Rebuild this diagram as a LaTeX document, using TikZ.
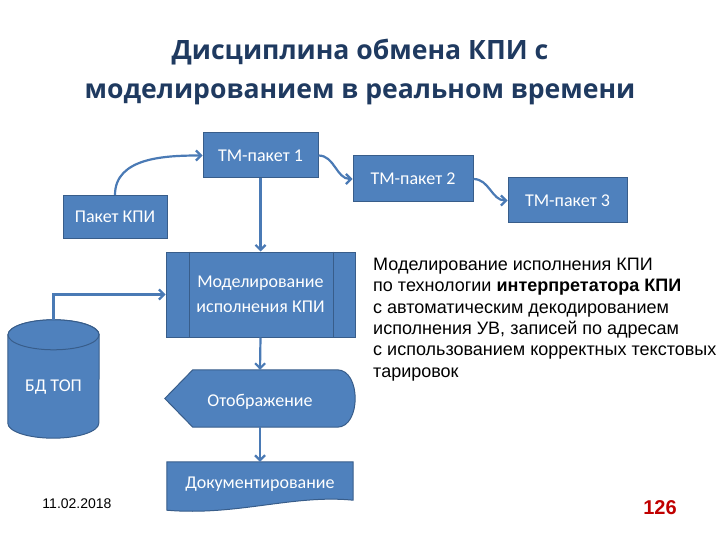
\documentclass[tikz,border=0pt]{standalone}
\usepackage{fontspec}
\setmainfont{Carlito}
\newfontfamily\arialfont{Liberation Sans}
\newfontfamily\titlefont{Open Sans}
\usepackage{tikz}
\usetikzlibrary{positioning,calc,arrows.meta}
\definecolor{boxblue}{HTML}{4F81BD}
\definecolor{boxedge}{HTML}{385D8A}
\definecolor{linkblue}{HTML}{4A7AB5}
\definecolor{titleblue}{HTML}{1F3A60}
\definecolor{pagered}{HTML}{C00000}

\begin{document}
\begin{tikzpicture}[x=1pt,y=-1pt,font=\fontsize{18}{25}\selectfont,
  pkt/.style={draw=boxedge,fill=boxblue,text=white,line width=1pt,inner sep=0pt},
  shapebox/.style={draw=boxedge,fill=boxblue,line width=1pt},
  link/.style={draw=linkblue,line width=2.2pt,-{Straight Barb[length=5pt,width=10pt]}}]
\useasboundingbox (0,0) rectangle (720,540);
\node[font=\titlefont\bfseries\fontsize{26.6}{39}\selectfont,text=titleblue,align=center] (title) at (360,72) {Дисциплина обмена КПИ с\\моделированием в реальном времени};
\node[pkt,minimum width=115pt,minimum height=45pt] (tm1) at (260.5,155.5) {ТМ-пакет 1};
\node[pkt,minimum width=120pt,minimum height=46pt] (tm2) at (413,179) {ТМ-пакет 2};
\node[pkt,minimum width=119pt,minimum height=45pt] (tm3) at (567.5,200.5) {ТМ-пакет 3};
\node[pkt,minimum width=104pt,minimum height=43pt] (kpi) at (115,217) {Пакет КПИ};
\node[pkt,minimum width=189pt,minimum height=85pt,align=center] (model) at (260.5,294.5) {Моделирование\\исполнения КПИ};
\draw[boxedge,line width=1pt] ([xshift=24pt]model.north west) -- ([xshift=24pt]model.south west);
\draw[boxedge,line width=1pt] ([xshift=-22pt]model.north east) -- ([xshift=-22pt]model.south east);
% display shape
\node[minimum width=190pt,minimum height=57pt,inner sep=0pt] (disp) at (260,398.5) {};
\draw[shapebox] (disp.west) -- ([xshift=28pt]disp.north west) -- ([xshift=-18pt]disp.north east)
  .. controls ([xshift=6pt]disp.north east) and ([xshift=6pt]disp.south east) .. ([xshift=-18pt]disp.south east)
  -- ([xshift=28pt]disp.south west) -- cycle;
\node[text=white] at ([yshift=-3pt]disp.center) {Отображение};
% document shape
\node[minimum width=186pt,minimum height=48pt,inner sep=0pt] (doc) at (260,486) {};
\draw[shapebox] (doc.north west) -- (doc.north east) -- ([yshift=10pt]doc.south east)
  .. controls ([xshift=-60pt,yshift=16pt]doc.south east) and ([xshift=70pt,yshift=-6pt]doc.south west) .. ([yshift=0pt]doc.south west) -- cycle;
\node[text=white] at ([yshift=2pt]doc.center) {Документирование};
% database
\node[minimum width=91pt,minimum height=118pt,inner sep=0pt] (db) at (53.5,379) {};
\draw[shapebox] ([yshift=-15pt]db.north west) -- ([yshift=15pt]db.south west)
  arc[start angle=180,end angle=360,x radius=45.5pt,y radius=15pt] -- ([yshift=-15pt]db.north east)
  arc[start angle=0,end angle=180,x radius=45.5pt,y radius=15pt] -- cycle;
\draw[shapebox] ([yshift=-15pt]db.north) ellipse[x radius=45.5pt,y radius=15pt];
\node[text=white] at ([yshift=-8pt]db.center) {БД ТОП};
% links
\draw[link] (kpi.north) to[out=90,in=180] (tm1.west);
\draw[link] (tm1.east) to[out=0,in=180] (tm2.west);
\draw[link] (tm2.east) to[out=0,in=180] (tm3.west);
\draw[link] (tm1.south) -- (model.north);
\draw[link] (db.north) |- (model.west);
\draw[link] (model.south) -- (disp.north);
\draw[link] (disp.south) -- (doc.north);
\node[font=\arialfont\fontsize{18}{21.3}\selectfont,align=left,anchor=north west,inner sep=0pt] (note) at (373,258)
  {Моделирование исполнения КПИ\\по технологии \textbf{интерпретатора КПИ}\\с автоматическим декодированием\\исполнения УВ, записей по адресам\\с использованием корректных текстовых\\тарировок};
\node[font=\arialfont\fontsize{14}{16}\selectfont] (date) at (77,504) {11.02.2018};
\node[font=\arialfont\bfseries\fontsize{20}{22}\selectfont,text=pagered] (pagenum) at (660,508) {126};
\end{tikzpicture}
\end{document}
